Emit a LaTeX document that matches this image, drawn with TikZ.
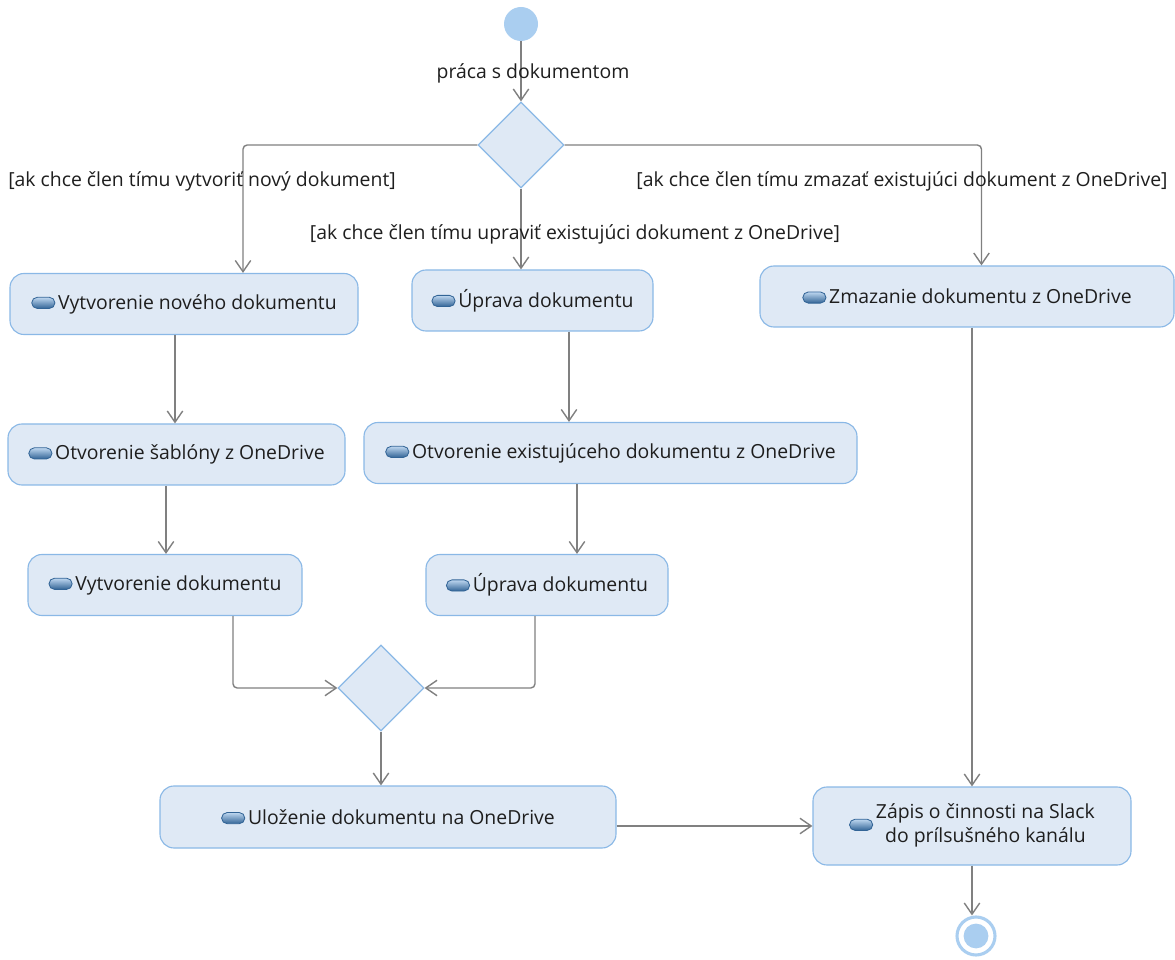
\documentclass[tikz,border=0pt]{standalone}
\usepackage{fontspec}
\setmainfont{Open Sans}
\usetikzlibrary{arrows.meta,shapes.geometric}

\definecolor{boxfill}{RGB}{223,233,245}
\definecolor{boxline}{RGB}{138,184,230}
\definecolor{nodeblue}{RGB}{170,206,240}
\definecolor{flowgray}{RGB}{128,128,128}
\definecolor{textgray}{RGB}{30,30,30}
\definecolor{icondark}{RGB}{50,100,150}
\definecolor{iconlight}{RGB}{190,215,240}

\tikzset{
  actbox/.style={rectangle, rounded corners=0.35cm, draw=boxline, fill=boxfill,
    line width=0.8pt, minimum height=1.525cm, inner sep=2pt, text=textgray},
  choice/.style={diamond, draw=boxline, fill=boxfill, line width=0.8pt,
    minimum width=2.15cm, minimum height=2.15cm, inner sep=0pt},
  flow/.style={draw=flowgray, line width=1pt, rounded corners=3pt,
    -{Straight Barb[length=8pt,width=11pt]}},
  guard/.style={text=textgray, inner sep=1pt}
}

\newcommand{\acticon}{\tikz[baseline=-0.6ex]\draw[draw=icondark, line width=0.6pt,
  rounded corners=0.14cm, top color=iconlight, bottom color=icondark]
  (0,-0.14) rectangle (0.58,0.14);\hspace{2pt}}

\begin{document}
\begin{tikzpicture}
  \useasboundingbox (0,0) rectangle (29.375,23.975);
  {\fontsize{13.8}{17}\selectfont

  % Start and first decision
  \node [circle, fill=nodeblue, minimum size=0.85cm, inner sep=0pt] (start) at (13.025,23.375) {};%
  \node [choice] (dec) at (13.025,20.35) {};%

  % Actions of the three branches
  \node [actbox, minimum width=8.7cm] (novy) at (4.6,16.375) {\acticon Vytvorenie nového dokumentu};%
  \node [actbox, minimum width=6.025cm] (uprava) at (13.3125,16.4625) {\acticon Úprava dokumentu};%
  \node [actbox, minimum width=10.35cm] (zmaz) at (24.175,16.5625) {\acticon Zmazanie dokumentu z OneDrive};%
  \node [actbox, minimum width=8.425cm] (sablona) at (4.4125,12.6125) {\acticon Otvorenie šablóny z OneDrive};%
  \node [actbox, minimum width=12.325cm] (otvor) at (15.2625,12.65) {\acticon Otvorenie existujúceho dokumentu z OneDrive};%
  \node [actbox, minimum width=6.85cm] (vytv) at (4.125,9.35) {\acticon Vytvorenie dokumentu};%
  \node [actbox, minimum width=6.05cm] (uprava2) at (13.675,9.35) {\acticon Úprava dokumentu};%

  % Merge and saving
  \node [choice] (merge) at (9.525,6.775) {};%
  \node [actbox, minimum width=11.4cm, minimum height=1.55cm] (ulozenie) at (9.7,3.55) {\acticon Uloženie dokumentu na OneDrive};%
  \node [actbox, minimum width=7.95cm, minimum height=1.95cm] (zapis) at (24.3,3.325)
    {\acticon\begin{tabular}{@{}c@{}}Zápis o činnosti na Slack\\do prílsušného kanálu\end{tabular}};%

  % Final node
  \node [circle, draw=nodeblue, line width=2.2pt, fill=white, minimum size=0.95cm, inner sep=0pt] (fin) at (24.4,0.575) {};%
  \node [circle, fill=nodeblue, minimum size=0.62cm, inner sep=0pt] (fincore) at (fin) {};%

  % Flows from the start
  \draw [flow] (start) -- (dec.north);%
  \draw [flow] (dec.west) -| ([xshift=1.475cm]novy.north);%
  \draw [flow] (dec.south) -- (dec.south |- uprava.north);%
  \draw [flow] (dec.east) -| ([xshift=0.3625cm]zmaz.north);%

  % Flows inside the branches
  \draw [flow] ([xshift=-0.225cm]novy.south) -- ([xshift=-0.225cm]novy.south |- sablona.north);%
  \draw [flow] ([xshift=0.9125cm]uprava.south) -- ([xshift=0.9125cm]uprava.south |- otvor.north);%
  \draw [flow] ([xshift=-0.2625cm]sablona.south) -- ([xshift=-0.2625cm]sablona.south |- vytv.north);%
  \draw [flow] ([xshift=-0.8375cm]otvor.south) -- ([xshift=-0.8375cm]otvor.south |- uprava2.north);%
  \draw [flow] ([xshift=1.7cm]vytv.south) |- (merge.west);%
  \draw [flow] ([xshift=-0.3cm]uprava2.south) |- (merge.east);%
  \draw [flow] (merge.south) -- (merge.south |- ulozenie.north);%

  % Flows to the end
  \draw [flow] (ulozenie.east |- zapis.west) -- (zapis.west);%
  \draw [flow] (zapis.north |- zmaz.south) -- (zapis.north);%
  \draw [flow] (zapis.south) -- (zapis.south |- fin.north);%

  % Labels of the flows
  \node [guard] (lprace) at (13.325,22.15) {práca s dokumentom};%
  \node [guard] (lnovy) at (5.05,19.45) {[ak chce člen tímu vytvoriť nový dokument]};%
  \node [guard] (luprava) at (14.375,18.125) {[ak chce člen tímu upraviť existujúci dokument z OneDrive]};%
  \node [guard] (lzmaz) at (22.55,19.45) {[ak chce člen tímu zmazať existujúci dokument z OneDrive]};%
  }
\end{tikzpicture}
\end{document}
